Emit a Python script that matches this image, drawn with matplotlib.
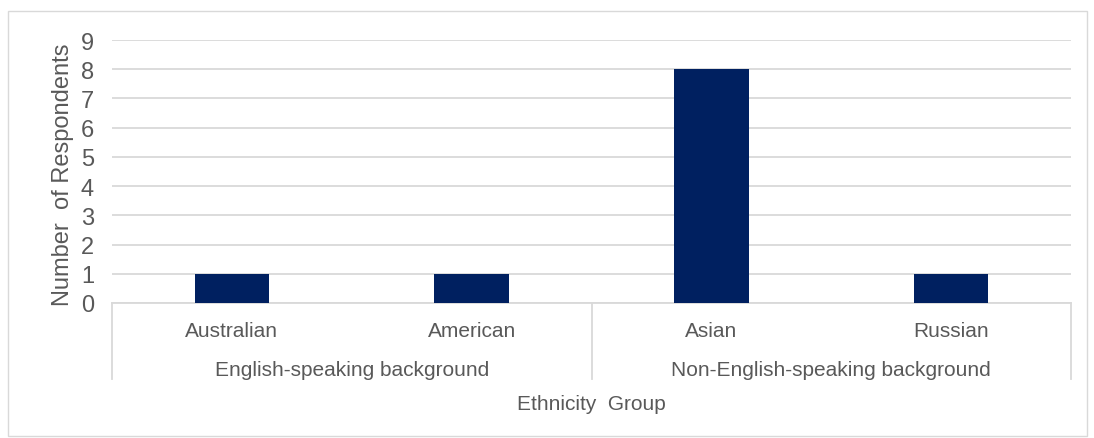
import matplotlib.pyplot as plt
from matplotlib.patches import Rectangle

plt.rcParams['font.family'] = ['Liberation Sans', 'DejaVu Sans']

ethnicities = ['Australian', 'American', 'Asian', 'Russian']
respondents = [1, 1, 8, 1]
groups = ['English-speaking background', 'Non-English-speaking background']
group_sizes = [2, 2]

txt = '#595959'
grid = '#d9d9d9'

fig = plt.figure(figsize=(10.94, 4.39), dpi=100)
fig.patches.append(Rectangle((8 / 1094, 2 / 439), 1079 / 1094, 425 / 439,
                             transform=fig.transFigure, fill=False,
                             edgecolor=grid, linewidth=1))
ax = fig.add_axes([112 / 1094, 1 - 304 / 439, 959 / 1094, 263 / 439])

x = list(range(len(ethnicities)))
ax.bar(x, respondents, width=0.31, color='#002060', zorder=3)
ax.set_xlim(-0.5, len(ethnicities) - 0.5)
ax.set_ylim(0, 9)
ax.set_yticks(range(10))
ax.grid(axis='y', color=grid, linewidth=1.3, zorder=0)
ax.tick_params(axis='y', length=0, pad=13, labelsize=17, labelcolor=txt)
ax.set_xticks([])
for s in ['top', 'right', 'left']:
    ax.spines[s].set_visible(False)
ax.spines['bottom'].set_color(grid)
ax.spines['bottom'].set_linewidth(1.3)

# multi-level category axis
tr = ax.get_xaxis_transform()
for i, name in enumerate(ethnicities):
    ax.text(i, -0.106, name, transform=tr, ha='center', va='center',
            fontsize=15, color=txt)
start = -0.5
bounds = [start]
for g, n in zip(groups, group_sizes):
    ax.text(start + n / 2, -0.251, g, transform=tr, ha='center', va='center',
            fontsize=15, color=txt)
    start += n
    bounds.append(start)
for b in bounds:
    ax.plot([b, b], [0, -0.289], transform=tr, color=grid, linewidth=1.3,
            clip_on=False)

ax.text(0.5, -0.384, 'Ethnicity  Group', transform=ax.transAxes, ha='center',
        va='center', fontsize=15, color=txt)
fig.text(63 / 1094, 1 - 175 / 439, 'Number  of Respondents', rotation=90,
         ha='center', va='center', fontsize=17, color=txt)

fig.savefig('out.png', dpi=100)
